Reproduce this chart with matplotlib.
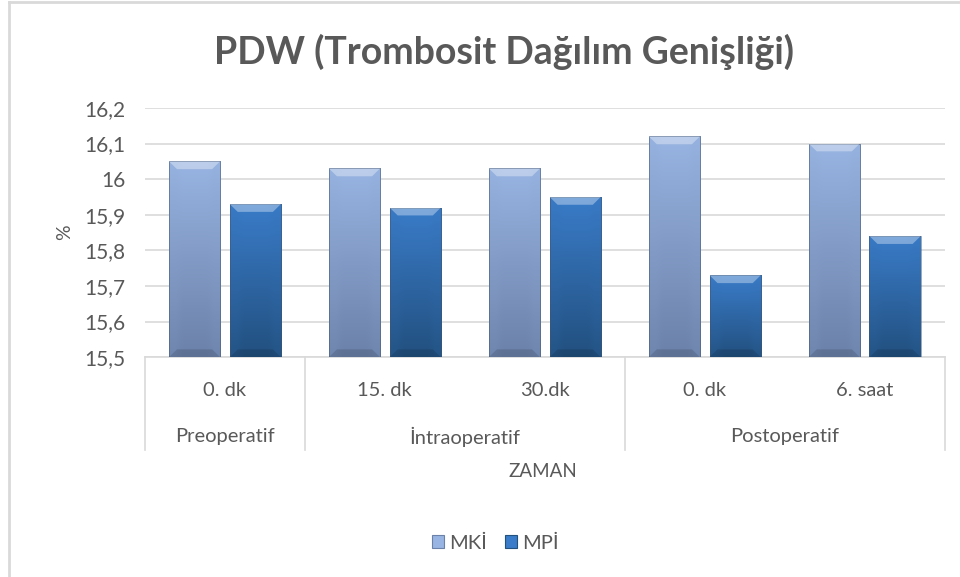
import numpy as np
import matplotlib.pyplot as plt
from matplotlib.patches import Rectangle, Polygon, Patch
from matplotlib.lines import Line2D
from matplotlib.colors import LinearSegmentedColormap

plt.rcParams['font.family'] = ['Lato', 'DejaVu Sans']

# data
categories = ['0. dk', '15. dk', '30.dk', '0. dk', '6. saat']
groups = ['Preoperatif', 'İntraoperatif', 'Postoperatif']
group_sizes = [1, 2, 2]
series_names = ['MKİ', 'MPİ']
mki = [16.05, 16.03, 16.03, 16.12, 16.10]
mpi = [15.93, 15.92, 15.95, 15.73, 15.84]
yticks = [15.5, 15.6, 15.7, 15.8, 15.9, 16.0, 16.1, 16.2]
ytick_labels = ['15,5', '15,6', '15,7', '15,8', '15,9', '16', '16,1', '16,2']

# colours (top, bottom) for the fake bevel gradient
grad = {
    'MKİ': ('#98B4E2', '#6B81A9'),
    'MPİ': ('#3A7CC9', '#22507F'),
}
text_col = '#595959'
grid_col = '#D9D9D9'

fig = plt.figure(figsize=(9.6, 5.77), dpi=100)
ax = fig.add_axes([0.151, 0.381, 0.833, 0.432])

ymin, ymax = 15.5, 16.2
ax.set_ylim(ymin, ymax)
ax.set_xlim(-0.5, len(categories) - 0.5)

x = np.arange(len(categories))
width = 0.32
offsets = [-0.19, 0.19]


def draw_bar(xc, val, name):
    top, bot = grad[name]
    cmap = LinearSegmentedColormap.from_list(name, [bot, top])
    x0, x1 = xc - width / 2, xc + width / 2
    rect = Rectangle((x0, ymin), width, val - ymin, facecolor='none',
                     edgecolor='#44546A', linewidth=0.6, alpha=0.6, zorder=4)
    ax.add_patch(rect)
    g = np.linspace(0, 1, 100).reshape(-1, 1)
    g = np.hstack([g * 0.85 + 0.1, g, g, g, g * 0.85 + 0.1])
    im = ax.imshow(g, extent=(x0, x1, ymin, val), origin='lower', cmap=cmap,
                   aspect='auto', zorder=3, vmin=0, vmax=1)
    im.set_clip_path(rect)
    # top bevel highlight
    dy = 0.022
    dx = 0.05
    ax.add_patch(Polygon([(x0, val), (x1, val), (x1 - dx, val - dy), (x0 + dx, val - dy)],
                         closed=True, facecolor='white', alpha=0.35, edgecolor='none', zorder=4))
    # bottom bevel shade
    ax.add_patch(Polygon([(x0, ymin), (x1, ymin), (x1 - dx, ymin + dy), (x0 + dx, ymin + dy)],
                         closed=True, facecolor='black', alpha=0.12, edgecolor='none', zorder=4))


for i in range(len(categories)):
    draw_bar(x[i] + offsets[0], mki[i], 'MKİ')
    draw_bar(x[i] + offsets[1], mpi[i], 'MPİ')

ax.set_yticks(yticks)
ax.set_yticklabels(ytick_labels, color=text_col, fontsize=15)
ax.tick_params(axis='y', length=0, pad=14)
ax.set_xticks([])
ax.yaxis.grid(True, color=grid_col, linewidth=1.2, zorder=0)
ax.set_axisbelow(True)
for s in ['top', 'right', 'left']:
    ax.spines[s].set_visible(False)
ax.spines['bottom'].set_color(grid_col)
ax.spines['bottom'].set_linewidth(1.2)

ax.set_ylabel('%', color=text_col, fontsize=14, labelpad=8)

# multi-level category axis
trans = ax.get_xaxis_transform()
for i, c in enumerate(categories):
    ax.text(x[i], -0.133, c, transform=trans, ha='center', va='center',
            fontsize=14.5, color=text_col)
bounds = [-0.5]
for n in group_sizes:
    bounds.append(bounds[-1] + n)
for b in bounds:
    ax.add_line(Line2D([b, b], [0, -0.373], transform=trans, color=grid_col,
                       linewidth=1.2, clip_on=False))
for j, gname in enumerate(groups):
    ax.text((bounds[j] + bounds[j + 1]) / 2, -0.32, gname, transform=trans,
            ha='center', va='center', fontsize=14.5, color=text_col)
ax.text(0.497, -0.46, 'ZAMAN', transform=ax.transAxes, ha='center', va='center',
        fontsize=13.5, color=text_col)

fig.text(0.525, 0.91, 'PDW (Trombosit Dağılım Genişliği)', ha='center', va='center',
         fontsize=27, fontweight='bold', color=text_col)

handles = [Patch(facecolor=grad[n][0], edgecolor=grad[n][1], linewidth=0.8, label=n)
           for n in series_names]
leg = fig.legend(handles=handles, loc='center', bbox_to_anchor=(0.516, 0.059), ncol=2,
                 frameon=False, fontsize=14.5, handlelength=0.6, handleheight=0.6,
                 handletextpad=0.25, columnspacing=0.9)
for t in leg.get_texts():
    t.set_color(text_col)

# outer chart frame (top and left edges visible)
fig.add_artist(Line2D([0.009, 1.0], [0.996, 0.996], transform=fig.transFigure,
                      color='#D9D9D9', linewidth=2))
fig.add_artist(Line2D([0.009, 0.009], [0.0, 0.996], transform=fig.transFigure,
                      color='#D9D9D9', linewidth=2))

fig.savefig('out.png', dpi=100)
